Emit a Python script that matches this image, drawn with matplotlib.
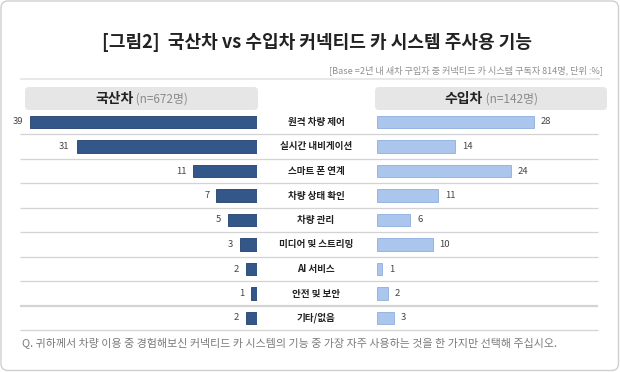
import matplotlib
matplotlib.use("Agg")
import matplotlib.pyplot as plt
from matplotlib.patches import FancyBboxPatch
from matplotlib import transforms

plt.rcParams['font.family'] = ['Noto Sans CJK KR', 'DejaVu Sans']

categories = ["원격 차량 제어", "실시간 내비게이션", "스마트 폰 연계", "차량 상태 확인", "차량 관리",
              "미디어 및 스트리밍", "AI 서비스", "안전 및 보안", "기타/없음"]
domestic = [39, 31, 11, 7, 5, 3, 2, 1, 2]
imported = [28, 14, 24, 11, 6, 10, 1, 2, 3]
title = "[그림2]  국산차 vs 수입차 커넥티드 카 시스템 주사용 기능"
base_note = "[Base =2년 내 새차 구입자 중 커넥티드 카 시스템 구독자 814명, 단위 :%]"
left_head = ("국산차", "(n=672명)")
right_head = ("수입차", "(n=142명)")
question = "Q. 귀하께서 차량 이용 중 경험해보신 커넥티드 카 시스템의 기능 중 가장 자주 사용하는 것을 한 가지만 선택해 주십시오."

W, H = 620, 372
fig = plt.figure(figsize=(W / 100, H / 100), dpi=100)
fig.patch.set_facecolor("white")

# background axes in pixel coordinates
bg = fig.add_axes([0, 0, 1, 1])
bg.set_xlim(0, W)
bg.set_ylim(H, 0)
bg.axis("off")

bg.add_patch(FancyBboxPatch((1, 1), W - 2.5, H - 2.5, boxstyle="round,pad=0,rounding_size=7",
                            fc="white", ec="#cfcfcf", lw=1.0))

dark = "#222222"
gray = "#8a8a8a"
bg.text(317, 42, title, ha="center", va="center", fontsize=13, fontweight="bold", color=dark)
bg.text(603, 70, base_note, ha="right", va="center", fontsize=6.6, color="#8f8f8f")
bg.plot([20, 600], [79, 79], color="#e4e4e4", lw=1.2, solid_capstyle="butt")

# header boxes
for x0, x1 in [(25, 258), (375, 607)]:
    bg.add_patch(FancyBboxPatch((x0, 87), x1 - x0, 23, boxstyle="round,pad=0,rounding_size=4",
                                fc="#e6e6e6", ec="none"))

fig.canvas.draw()
renderer = fig.canvas.get_renderer()

def header(cx, parts):
    t1 = bg.text(0, 99, parts[0], ha="left", va="center", fontsize=10, fontweight="bold", color=dark)
    t2 = bg.text(0, 99.5, " " + parts[1], ha="left", va="center", fontsize=8.5, color=gray)
    w1 = t1.get_window_extent(renderer).width
    w2 = t2.get_window_extent(renderer).width
    start = cx - (w1 + w2) / 2
    t1.set_x(start)
    t2.set_x(start + w1)

header(141.5, left_head)
header(491, right_head)

# bar axes
top_px, bot_px = 109.75, 330.25
n = len(categories)

def px_axes(x0, x1):
    return fig.add_axes([x0 / W, 1 - bot_px / H, (x1 - x0) / W, (bot_px - top_px) / H])

left_scale = 5.83
right_scale = 5.6
axL = px_axes(20, 257.3)
axL.set_xlim((257.3 - 20) / left_scale, 0)
axR = px_axes(376.7, 600)
axR.set_xlim(0, (600 - 376.7) / right_scale)
for ax in (axL, axR):
    ax.set_ylim(n - 0.5, -0.5)
    ax.axis("off")
    ax.patch.set_alpha(0)

ypos = list(range(n))
axL.barh(ypos, domestic, height=0.52, color="#34578a", edgecolor="#223f6b", lw=0.6)
axR.barh(ypos, imported, height=0.52, color="#abc6ec", edgecolor="#8eaee0", lw=0.6)

for y, v in zip(ypos, domestic):
    axL.annotate(str(v), (v, y), xytext=(-5, 0), textcoords="offset points",
                 ha="right", va="center", fontsize=6.8, color="#444444")
for y, v in zip(ypos, imported):
    axR.annotate(str(v), (v, y), xytext=(5, 0), textcoords="offset points",
                 ha="left", va="center", fontsize=6.8, color="#444444")

# category labels and separators
tr = transforms.blended_transform_factory(bg.transData, axL.transData)
for y, c in zip(ypos, categories):
    bg.text(316, y, c, transform=tr, ha="center", va="center", fontsize=6.9,
            fontweight="bold", color=dark)
for i in range(n):
    lw = 1.6 if i == n - 2 else 0.9
    bg.plot([20, 598], [i + 0.5, i + 0.5], transform=tr, color="#d3d3d3", lw=lw,
            solid_capstyle="butt")

bg.text(22, 343, question, ha="left", va="center", fontsize=7.9, color="#7a7a7a")

fig.savefig("out.png", dpi=100)
